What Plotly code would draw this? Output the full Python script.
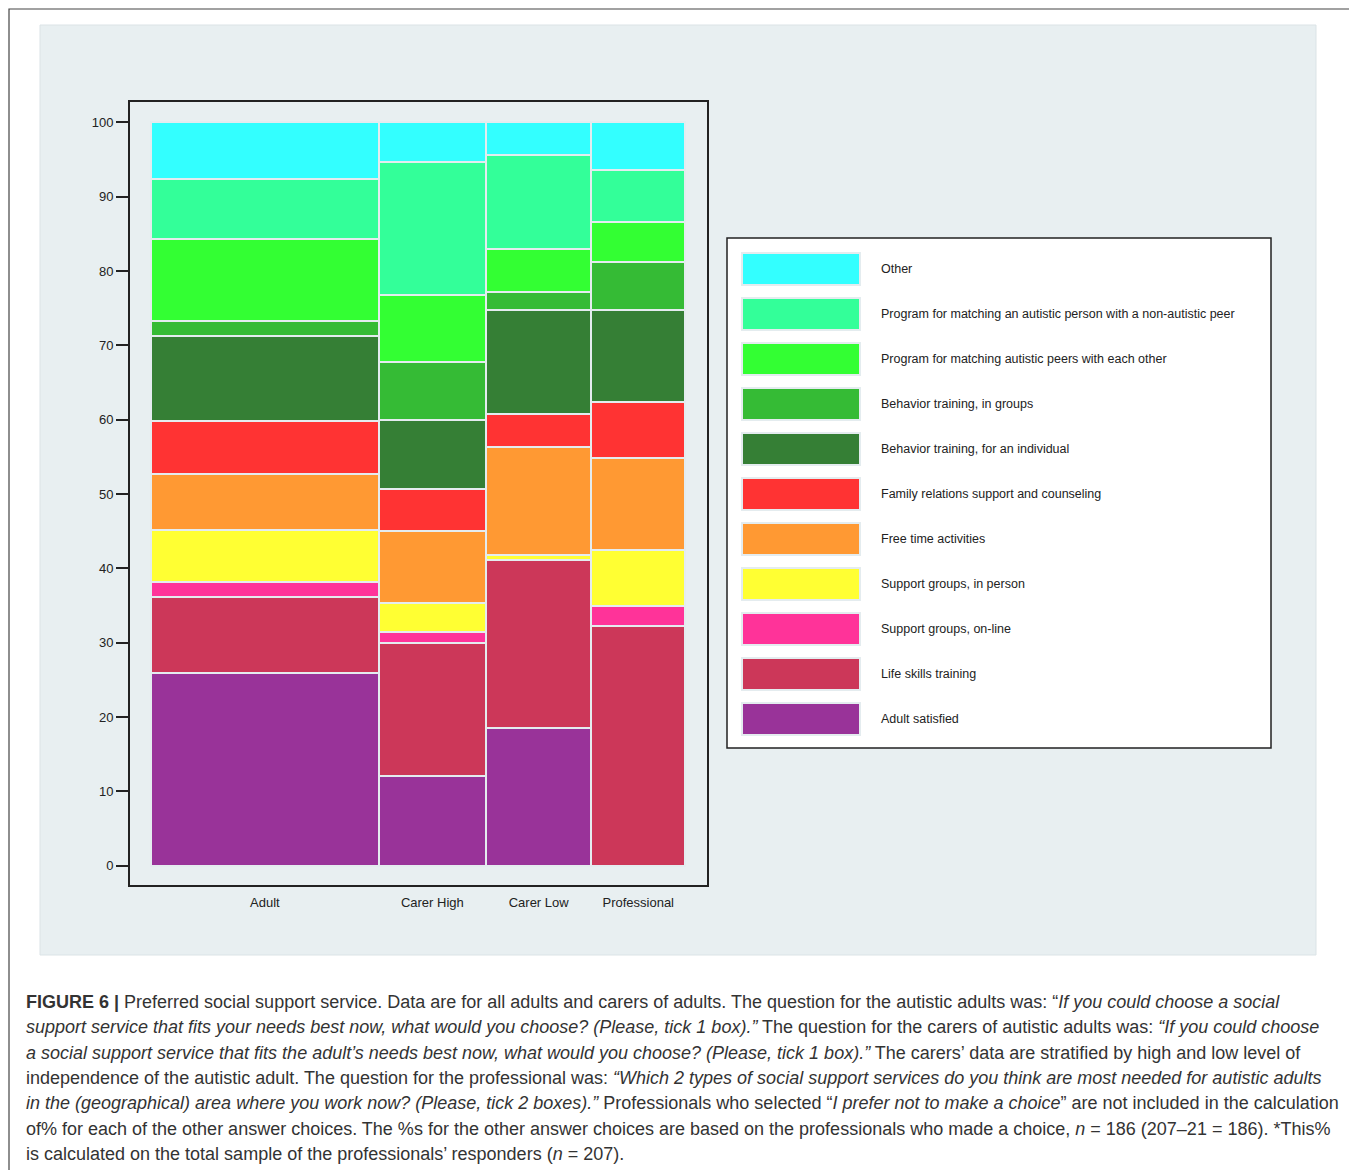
import plotly.graph_objects as go
import numpy as np

# columns of the mosaic and their relative sizes (bar widths)
groups = ["Adult", "Carer High", "Carer Low", "Professional"]
group_n = [453, 213, 210, 186]

# % per column
adult_satisfied = [25.9, 12.1, 18.5, 0.0]
life_skills = [10.2, 17.8, 22.6, 32.3]
support_online = [2.0, 1.5, 0.0, 2.6]
support_in_person = [7.1, 3.9, 0.7, 7.6]
free_time = [7.5, 9.7, 14.5, 12.4]
family_support = [7.1, 5.7, 4.4, 7.5]
behavior_individual = [11.4, 9.3, 14.1, 12.3]
behavior_groups = [2.1, 7.7, 2.4, 6.5]
peers_each_other = [11.0, 9.1, 5.8, 5.4]
peer_non_autistic = [8.1, 17.9, 12.6, 7.0]
other = [7.6, 5.3, 4.4, 6.4]

y_ticks = [0, 10, 20, 30, 40, 50, 60, 70, 80, 90, 100]

# bottom -> top stacking order
series = [
    ("Adult satisfied", adult_satisfied, "#993399"),
    ("Life skills training", life_skills, "#CC3759"),
    ("Support groups, on-line", support_online, "#FF3399"),
    ("Support groups, in person", support_in_person, "#FFFF33"),
    ("Free time activities", free_time, "#FF9933"),
    ("Family relations support and counseling", family_support, "#FF3333"),
    ("Behavior training, for an individual", behavior_individual, "#357F35"),
    ("Behavior training, in groups", behavior_groups, "#35BB35"),
    ("Program for matching autistic peers with each other", peers_each_other, "#33FF33"),
    ("Program for matching an autistic person with a non-autistic peer", peer_non_autistic, "#33FF99"),
    ("Other", other, "#33FFFF"),
]

# page body has an 8px margin, so the figure starts at (8, 8) of the window
OFF = 8
W, H = 1357 - OFF, 1170 - OFF
FONT = "Liberation Sans, Arial, sans-serif"


def px(x):
    return (x - OFF) / W


def py(y):
    return 1 - (y - OFF) / H


widths = np.array(group_n, dtype=float)
centers = np.cumsum(widths) - widths / 2
total = widths.sum()

fig = go.Figure()
for name, vals, color in series:
    fig.add_trace(go.Bar(
        name=name,
        x=centers,
        y=vals,
        width=widths,
        marker=dict(color=color, line=dict(color="#e4ecef", width=2)),
        showlegend=False,
    ))

# pixel geometry of the plot frame (window pixels)
frame_l, frame_r, frame_t, frame_b = 130, 707, 102, 885
bar_l, bar_r = 151, 685
y0_px, y100_px = 865.7, 122.3
ux = (bar_r - bar_l) / total
uy = (y0_px - y100_px) / 100

shapes = [
    dict(type="rect", xref="paper", yref="paper", x0=px(9), x1=px(1355), y0=py(1180), y1=py(9),
         line=dict(color="#444", width=1.2), fillcolor="white", layer="below"),
    dict(type="rect", xref="paper", yref="paper", x0=px(40), x1=px(1316), y0=py(955), y1=py(25),
         line=dict(color="#dbe3e6", width=1), fillcolor="#e8eff1", layer="below"),
    dict(type="rect", xref="paper", yref="paper", x0=px(727), x1=px(1271), y0=py(748), y1=py(238),
         line=dict(color="#222", width=1.5), fillcolor="white", layer="below"),
]
annotations = []

# legend drawn by hand: large swatches like the original
for i, (name, vals, color) in enumerate(reversed(series)):
    yc = 269 + 45 * i
    shapes.append(dict(type="rect", xref="paper", yref="paper",
                       x0=px(742), x1=px(860), y0=py(yc + 16), y1=py(yc - 16),
                       line=dict(color="#e4ecef", width=2), fillcolor=color))
    annotations.append(dict(xref="paper", yref="paper", x=px(879), y=py(yc),
                            xanchor="left", yanchor="middle", showarrow=False,
                            text=name, font=dict(family=FONT, size=12.5, color="#222")))

caption = [
    "<b>FIGURE 6 |</b> Preferred social support service. Data are for all adults and carers of adults. "
    "The question for the autistic adults was: \u201c<i>If you could choose a social</i>",
    "<i>support service that fits your needs best now, what would you choose? (Please, tick 1 box).\u201d</i> "
    "The question for the carers of autistic adults was: <i>\u201cIf you could choose</i>",
    "<i>a social support service that fits the adult\u2019s needs best now, what would you choose? "
    "(Please, tick 1 box).\u201d</i> The carers\u2019 data are stratified by high and low level of",
    "independence of the autistic adult. The question for the professional was: <i>\u201cWhich 2 types "
    "of social support services do you think are most needed for autistic adults</i>",
    "<i>in the (geographical) area where you work now? (Please, tick 2 boxes).\u201d</i> Professionals who "
    "selected \u201c<i>I prefer not to make a choice</i>\u201d are not included in the calculation",
    "of% for each of the other answer choices. The %s for the other answer choices are based on the "
    "professionals who made a choice, <i>n</i> = 186 (207\u201321 = 186). *This%",
    "is calculated on the total sample of the professionals\u2019 responders (<i>n</i> = 207).",
]
for i, line in enumerate(caption):
    annotations.append(dict(xref="paper", yref="paper", x=px(24), y=py(1002 + 25.3 * i),
                            xanchor="left", yanchor="middle", showarrow=False, text=line,
                            font=dict(family=FONT, size=18, color="#333")))

fig.update_layout(
    width=W,
    height=H,
    margin=dict(l=0, r=0, t=0, b=0),
    paper_bgcolor="white",
    plot_bgcolor="white",
    barmode="stack",
    bargap=0,
    showlegend=False,
    shapes=shapes,
    annotations=annotations,
    font=dict(family=FONT, color="#222"),
    xaxis=dict(
        domain=[px(frame_l), px(frame_r)],
        range=[-(bar_l - frame_l) / ux, total + (frame_r - bar_r) / ux],
        tickvals=centers,
        ticktext=groups,
        ticks="outside",
        ticklen=4,
        tickcolor="rgba(0,0,0,0)",
        tickfont=dict(family=FONT, size=13, color="#222"),
        showgrid=False,
        zeroline=False,
        showline=True,
        mirror=True,
        linecolor="#222",
        linewidth=2,
        fixedrange=True,
    ),
    yaxis=dict(
        domain=[py(frame_b), py(frame_t)],
        range=[-(frame_b - y0_px) / uy, 100 + (y100_px - frame_t) / uy],
        tickvals=y_ticks,
        ticks="outside",
        ticklen=12,
        tickwidth=1.5,
        tickcolor="#222",
        tickfont=dict(family=FONT, size=13, color="#222"),
        showgrid=False,
        zeroline=False,
        showline=True,
        mirror=True,
        linecolor="#222",
        linewidth=2,
        fixedrange=True,
    ),
)

fig.write_html("out.html")
